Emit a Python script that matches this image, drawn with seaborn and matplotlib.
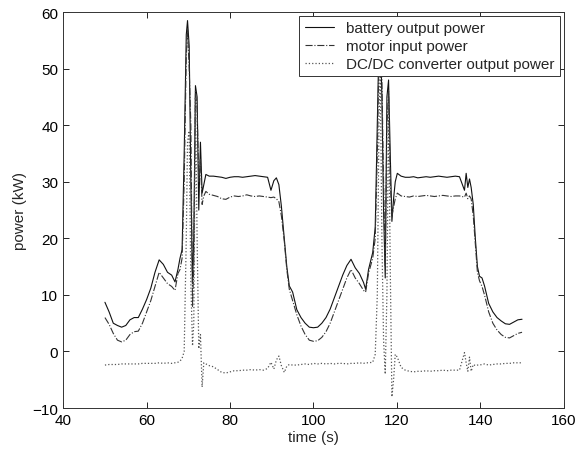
import matplotlib
matplotlib.use("Agg")
import matplotlib.pyplot as plt
import seaborn as sns
import pandas as pd

time_s = [50, 51, 52, 53, 54, 55, 56, 57, 58, 59, 60, 61, 62, 63, 64, 65, 66, 66.8, 67.5, 68, 68.5,
          69, 69.5, 69.8, 70.2, 70.6, 71.0, 71.3, 71.7, 72.1, 72.5, 72.9, 73.3, 73.7, 74.2,
          75, 76, 77, 78, 79, 80, 81, 82, 83, 84, 85, 86, 87, 88, 89, 89.8, 90.5, 91.1, 91.7, 92.3,
          93, 93.6, 94.2, 95, 96,
          97, 98, 99, 100, 101, 102, 103, 104, 105, 106, 107, 108, 109, 110, 111, 112, 112.5, 113.2, 114.2,
          114.8, 115.3, 115.7, 116.0, 116.4, 116.8, 117.2, 117.6, 118.0, 118.4, 118.8, 119.2, 119.6, 120.1,
          121, 122, 123, 124, 125, 126, 127, 128, 129, 130, 131, 132, 133, 134, 135,
          136.2, 136.6, 137.0, 137.4, 137.8, 138.3, 138.8, 139.3, 139.8, 140.4, 141,
          142, 143, 144, 145, 146, 147, 148, 149, 150]

battery_kw = [8.7, 7.0, 5.0, 4.6, 4.3, 4.6, 5.6, 6.0, 6.0, 7.5, 9.2, 11.2, 14.0, 16.2, 15.4, 14.0, 13.5, 12.3, 14.5, 16.5, 18.0,
              35, 56, 58.5, 54, 30, 12, 20, 47, 45, 25, 37, 28, 29.5, 31.3,
              31.0, 31.0, 30.9, 30.8, 30.6, 30.8, 30.9, 30.9, 30.8, 30.9, 31.0, 31.1, 31.0, 30.9, 30.8, 28.5, 30.2, 30.7, 29.5, 25.7,
              20.0, 15.0, 11.6, 10.5, 7.4,
              6.0, 5.0, 4.3, 4.2, 4.3, 5.0, 6.0, 7.5, 9.5, 11.5, 13.5, 15.2, 16.3, 14.8, 13.8, 12.2, 11.0, 14.5, 17.5,
              22, 40, 55, 57, 45, 25, 13, 45, 48, 35, 23, 27, 30, 31.5,
              31.0, 30.8, 30.8, 30.9, 30.7, 30.8, 30.9, 30.8, 30.9, 31.0, 30.9, 30.8, 30.9, 31.0, 30.9,
              28.5, 31.5, 29.0, 30.5, 29.0, 26.0, 20.0, 15.0, 13.3, 13.0, 11.6,
              8.5, 7.0, 6.0, 5.4, 4.9, 4.8, 5.2, 5.6, 5.7]

motor_kw = [6.0, 4.8, 3.2, 2.0, 1.7, 2.0, 3.0, 3.5, 3.6, 5.0, 7.0, 9.0, 11.5, 14.0, 13.0, 12.0, 11.5, 10.8, 13.8, 14.5, 16.5,
            30, 52, 57, 50, 40, 8, 15, 46, 43, 30, 34, 26, 27.5, 28.3,
            27.8, 27.6, 27.4, 27.0, 26.9, 27.3, 27.5, 27.4, 27.5, 27.7, 27.5, 27.4, 27.5, 27.4, 27.3, 27.2, 27.3, 27.0, 26.5, 24.0,
            19.5, 14.5, 11.0, 9.0, 6.5,
            4.5, 3.0, 2.0, 1.8, 1.9, 2.5, 3.5, 5.0, 7.0, 9.0, 11.0, 13.0, 14.5, 13.0, 12.0, 10.8, 10.5, 13.8, 16.5,
            20, 35, 52, 55, 48, 30, 15, 40, 46, 30, 24, 25.5, 27, 28,
            27.5, 27.4, 27.3, 27.5, 27.4, 27.5, 27.6, 27.5, 27.4, 27.5, 27.6, 27.5, 27.4, 27.5, 27.5,
            27.3, 28.0, 27.0, 27.5, 27.0, 24.0, 19.0, 14.0, 12.5, 11.5, 10.0,
            7.0, 5.0, 3.8, 3.0, 2.5, 2.4, 2.8, 3.2, 3.4]

dcdc_kw = [-2.4, -2.3, -2.3, -2.3, -2.2, -2.2, -2.2, -2.2, -2.2, -2.1, -2.1, -2.1, -2.1, -2.0, -2.1, -2.0, -2.1, -2.0, -1.9, -1.7, -1.2,
           0, 20, 37, 39, 12, 1, 5, 45, 20, 0.5, 3, -6.3, -2.0, -2.2,
           -2.5, -2.7, -3.2, -3.7, -3.8, -3.6, -3.4, -3.4, -3.3, -3.3, -3.2, -3.3, -3.2, -3.3, -3.0, -1.9, -3.1, -1.5, -0.8, -2.5,
           -3.7, -2.6, -2.3, -2.4, -2.4,
           -2.3, -2.2, -2.3, -2.1, -2.2, -2.1, -2.2, -2.1, -2.2, -2.1, -2.1, -2.2, -2.1, -2.1, -2.0, -2.1, -2.0, -2.0, -1.9,
           -0.5, 10, 40, 50, 20, 2, -4, 10, 44, 15, -8.0, -5, -0.5, -1.0,
           -2.8, -3.3, -3.5, -3.6, -3.5, -3.5, -3.4, -3.5, -3.4, -3.4, -3.3, -3.4, -3.3, -3.3, -3.3,
           -0.2, -2.0, -3.5, -1.0, -3.5, -2.3, -2.5, -2.4, -2.4, -2.3, -2.2,
           -2.4, -2.3, -2.2, -2.2, -2.1, -2.1, -2.0, -2.0, -2.0]

series_names = ["battery output power", "motor input power", "DC/DC converter output power"]
x_ticks = [40, 60, 80, 100, 120, 140, 160]
y_ticks = [-10, 0, 10, 20, 30, 40, 50, 60]

df = pd.DataFrame({"time": time_s, series_names[0]: battery_kw,
                   series_names[1]: motor_kw, series_names[2]: dcdc_kw})

sns.set_style("ticks")
plt.rcParams["font.family"] = ["Liberation Sans", "DejaVu Sans"]
plt.rcParams["xtick.direction"] = "in"
plt.rcParams["ytick.direction"] = "in"

fig = plt.figure(figsize=(5.8, 4.52), dpi=100)
ax = fig.add_axes([0.109, 0.095, 0.863, 0.876])

styles = [("-", "#111111", 0.8), ("-.", "#333333", 0.8), (":", "#555555", 0.9)]
for name, (ls, col, lw) in zip(series_names, styles):
    sns.lineplot(data=df, x="time", y=name, ax=ax, color=col, linestyle=ls,
                 linewidth=lw, label=name, estimator=None, sort=False)

ax.set_xlim(40, 160)
ax.set_ylim(-10, 60)
ax.set_xticks(x_ticks)
ax.set_yticks(y_ticks)
ax.tick_params(labelsize=11, length=4, width=0.6, top=True, right=True, colors="black")
for s in ax.spines.values():
    s.set_visible(True)
    s.set_linewidth(0.7)
    s.set_color("#333333")
ax.set_xlabel("time (s)", fontsize=11, labelpad=2)
ax.set_ylabel("power (kW)", fontsize=11)

leg = ax.legend(loc="upper right", fontsize=11, frameon=True, fancybox=False,
                framealpha=1, edgecolor="#333333", borderaxespad=0.25,
                handlelength=1.9, handletextpad=0.8, labelspacing=0.25, borderpad=0.35)
leg.get_frame().set_linewidth(0.7)

fig.savefig("out.png", dpi=100)
